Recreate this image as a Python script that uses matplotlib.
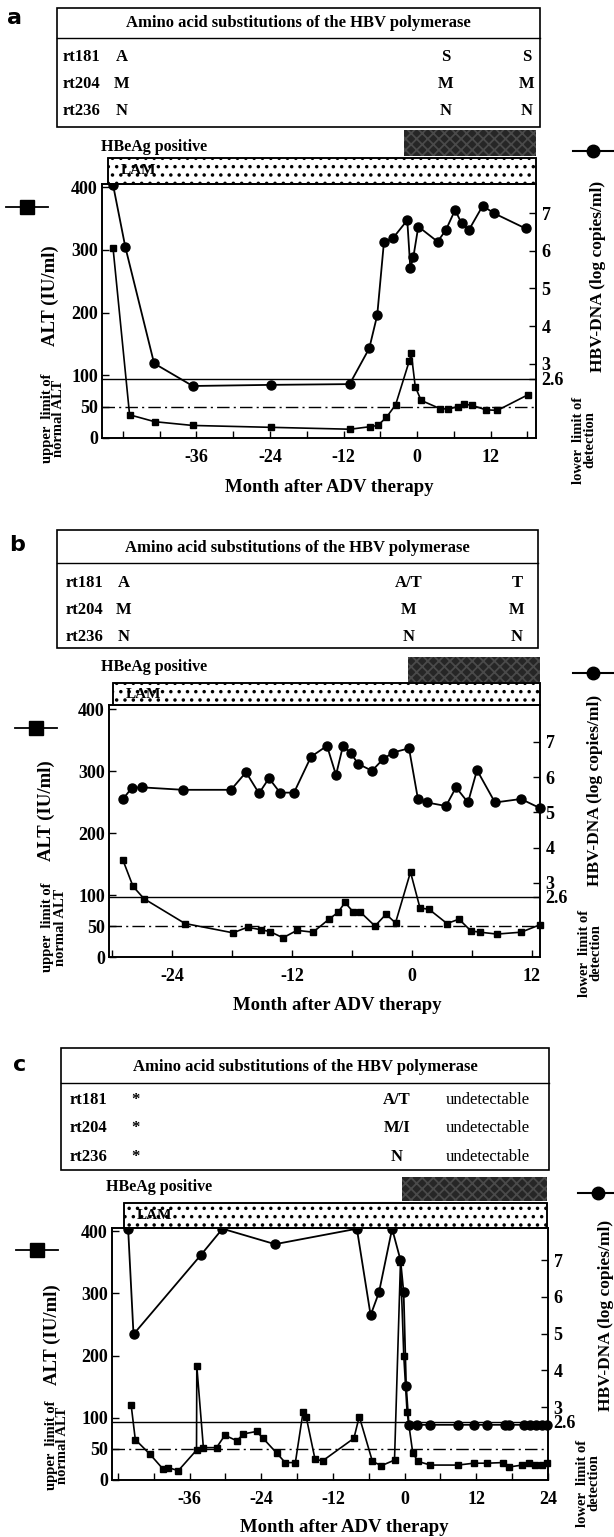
import numpy as np
import matplotlib.pyplot as plt
import matplotlib.transforms as mtransforms
from matplotlib.patches import Rectangle
from matplotlib.lines import Line2D

# ---------------- data ----------------
rows = ['rt181', 'rt204', 'rt236']
table_title = 'Amino acid substitutions of the HBV polymerase'
a_subs = [['A', 'S', 'S'], ['M', 'M', 'M'], ['N', 'N', 'N']]
b_subs = [['A', 'A/T', 'T'], ['M', 'M', 'M'], ['N', 'N', 'N']]
c_subs = [['*', 'A/T', 'undetectable'], ['*', 'M/I', 'undetectable'], ['*', 'N', 'undetectable']]

alt_ticks = [0, 50, 100, 200, 300, 400]
dna_ticks = [2.6, 3, 4, 5, 6, 7]
dna_ticklabels = ['2.6', '3', '4', '5', '6', '7']
alt_uln = 50      # upper limit of normal ALT
dna_lld = 2.6     # lower limit of detection

# panel a
a_alt_month = [-49.6, -46.9, -42.8, -36.6, -23.8, -10.9, -7.7, -6.4, -5.0, -3.5, -1.3,
               -0.95, -0.3, 0.65, 3.7, 5.1, 6.6, 7.7, 9.0, 11.2, 13.1, 18.1]
a_alt = [303, 37, 26, 20, 17, 14, 18, 20, 33, 53, 122, 135, 82, 60, 47, 46, 50, 54, 52,
         45, 44, 69]
a_dna_month = [-49.6, -47.6, -42.9, -36.6, -23.8, -11.0, -7.8, -6.5, -5.4, -3.95, -1.6,
               -1.1, -0.6, 0.2, 3.35, 4.7, 6.2, 7.25, 8.45, 10.7, 12.6, 17.7]
a_dna = [7.75, 6.10, 3.01, 2.41, 2.44, 2.46, 3.41, 4.29, 6.24, 6.33, 6.81, 5.53, 5.84,
         6.64, 6.24, 6.55, 7.08, 6.73, 6.55, 7.19, 6.99, 6.59]
a_lam_start, a_adv_start = -50.4, -2.2

# panel b
b_alt_month = [-28.9, -27.9, -26.8, -22.7, -17.9, -16.45, -15.1, -14.2, -12.9, -11.5,
               -9.9, -8.3, -7.4, -6.7, -5.9, -5.2, -3.7, -2.6, -1.65, -0.15, 0.8, 1.7,
               3.5, 4.7, 5.9, 6.8, 8.5, 10.9, 12.8]
b_alt = [156, 114, 94, 54, 39, 48, 44, 41, 31, 43, 40, 61, 72, 88, 73, 73, 50, 69, 55,
         137, 79, 77, 54, 61, 42, 40, 37, 40, 52]
b_dna_month = [-28.9, -28.0, -27.0, -22.9, -18.1, -16.6, -15.3, -14.3, -13.2, -11.8,
               -10.1, -8.5, -7.6, -6.9, -6.1, -5.4, -4.0, -2.9, -1.9, -0.3, 0.6, 1.5,
               3.4, 4.4, 5.6, 6.5, 8.3, 10.9, 12.8]
b_dna = [5.38, 5.70, 5.71, 5.64, 5.64, 6.14, 5.54, 5.97, 5.56, 5.56, 6.58, 6.89, 6.06,
         6.89, 6.68, 6.38, 6.18, 6.51, 6.70, 6.82, 5.37, 5.28, 5.18, 5.71, 5.28, 6.20,
         5.28, 5.38, 5.12]
b_lam_start, b_adv_start = -29.9, -0.4

# panel c
c_alt_month = [-45.8, -45.1, -42.6, -40.4, -39.6, -37.9, -34.85, -34.8, -33.7, -31.5,
               -30.1, -28.1, -27.0, -24.8, -23.7, -21.4, -20.0, -18.3, -17.0, -16.5,
               -15.0, -13.7, -8.5, -7.6, -5.4, -3.9, -1.7, -0.7, -0.15, 0.4, 1.35, 2.2,
               4.3, 8.9, 11.6, 13.8, 16.4, 17.5, 19.7, 20.8, 21.9, 23.0, 23.9]
c_alt = [121, 65, 41, 17, 20, 15, 48, 183, 52, 52, 72, 63, 74, 78, 67, 43, 28, 28, 110,
         102, 33, 31, 67, 102, 30, 23, 32, 350, 200, 110, 44, 30, 24, 24, 27, 27, 28,
         21, 24, 28, 24, 24, 28]
c_dna_month = [-46.3, -45.4, -34.1, -30.5, -21.7, -8.0, -5.7, -4.3, -2.1, -0.7, -0.17,
               0.25, 0.7, 2.0, 4.3, 8.9, 11.6, 13.8, 16.8, 17.4, 20.0, 21.0, 22.0, 23.0,
               23.9]
c_dna = [7.85, 4.98, 7.14, 7.85, 7.43, 7.85, 5.5, 6.12, 7.85, 7.0, 6.12, 3.58, 2.52,
         2.52, 2.52, 2.52, 2.52, 2.52, 2.52, 2.52, 2.52, 2.52, 2.52, 2.52, 2.52]
c_lam_start, c_adv_start = -47.0, -0.5

# ---------------- layout (pixels of a 614 x 1537 canvas) ----------------
W, H = 614, 1537
fig = plt.figure(figsize=(W / 100, H / 100), dpi=100)
plt.rcParams['font.family'] = ['Liberation Serif', 'DejaVu Serif']
plt.rcParams['hatch.linewidth'] = 1.3

panels = [
    dict(letter='a', letter_xy=(15, 18), subs=a_subs,
         table=(57, 8, 540, 127), sep=38, title_y=23, row_y=[57, 84, 111],
         col_x=[63, 122, 446, 527],
         ax=(102, 184, 536, 438), xlim=(-51.4, 19.4), alt_lim=(0, 405), dna_lim=(1.03, 7.77),
         xmajor=[-36, -24, -12, 0, 12], lam=26, dark=(28, 54), hbe=(101, 147),
         sq=(27, 207), circ=(593, 151), xlabel=(329, 487),
         alt_lab=(50, 296), uln_lab=(53, 418), dna_lab=(598, 276), lld_lab=(584, 440),
         alt=(a_alt_month, a_alt), dna=(a_dna_month, a_dna), starts=(a_lam_start, a_adv_start)),
    dict(letter='b', letter_xy=(17, 545), subs=b_subs,
         table=(57, 530, 538, 648), sep=563, title_y=548, row_y=[583, 610, 637],
         col_x=[66, 124, 409, 517],
         ax=(109, 705, 540, 957), xlim=(-30.3, 12.8), alt_lim=(0, 406.5), dna_lim=(0.89, 8.05),
         xmajor=[-24, -12, 0, 12], lam=22, dark=(23, 48), hbe=(101, 667),
         sq=(36, 728), circ=(593, 673), xlabel=(337, 1005),
         alt_lab=(46, 811), uln_lab=(54, 927), dna_lab=(595, 790), lld_lab=(590, 953),
         alt=(b_alt_month, b_alt), dna=(b_dna_month, b_dna), starts=(b_lam_start, b_adv_start)),
    dict(letter='c', letter_xy=(20, 1065), subs=c_subs,
         table=(61, 1048, 549, 1170), sep=1083, title_y=1067, row_y=[1100, 1128, 1157],
         col_x=[70, 135, 397, 488],
         ax=(112, 1228, 548, 1480), xlim=(-49.0, 23.9), alt_lim=(0, 405), dna_lim=(1.02, 7.87),
         xmajor=[-36, -24, -12, 0, 12, 24], lam=25, dark=(27, 51), hbe=(106, 1187),
         sq=(37, 1250), circ=(598, 1193), xlabel=(344, 1527),
         alt_lab=(52, 1335), uln_lab=(57, 1445), dna_lab=(606, 1315), lld_lab=(588, 1483),
         alt=(c_alt_month, c_alt), dna=(c_dna_month, c_dna), starts=(c_lam_start, c_adv_start)),
]


def fx(x):
    return x / W


def fy(y):
    return 1 - y / H


def ftext(x, y, s, **kw):
    kw.setdefault('ha', 'center')
    kw.setdefault('va', 'center')
    fig.text(fx(x), fy(y), s, **kw)


for p in panels:
    # panel letter
    ftext(*p['letter_xy'], p['letter'], family='DejaVu Sans', fontsize=16, fontweight='bold')

    # substitution table
    l, t, r, b = p['table']
    fig.add_artist(Rectangle((fx(l), fy(b)), fx(r - l), (b - t) / H, transform=fig.transFigure,
                             fill=False, lw=1.2, ec='k'))
    fig.add_artist(Line2D([fx(l), fx(r)], [fy(p['sep'])] * 2, transform=fig.transFigure,
                          lw=1.0, color='k'))
    ftext((l + r) / 2, p['title_y'], table_title, fontsize=12, fontweight='bold')
    for i, name in enumerate(rows):
        y = p['row_y'][i]
        ftext(p['col_x'][0], y, name, ha='left', fontsize=12, fontweight='bold')
        for j, val in enumerate(p['subs'][i]):
            wt = 'normal' if val == 'undetectable' else 'bold'
            ftext(p['col_x'][j + 1], y, val, fontsize=12, fontweight=wt)

    # axes
    l, t, r, b = p['ax']
    ax = fig.add_axes([fx(l), fy(b), fx(r - l), (b - t) / H])
    ax2 = ax.twinx()
    ax.set_xlim(*p['xlim'])
    ax.set_ylim(*p['alt_lim'])
    ax2.set_ylim(*p['dna_lim'])
    ax.set_zorder(ax2.get_zorder() + 1)
    ax.patch.set_visible(False)

    ax.axhline(alt_uln, color='k', lw=1.0, ls=(0, (9, 3, 1.5, 3)))
    ax2.axhline(dna_lld, color='k', lw=1.0)

    ax.plot(*p['alt'], color='k', lw=1.2, marker='s', ms=3.8, clip_on=False, zorder=3)
    ax2.plot(*p['dna'], color='k', lw=1.3, marker='o', ms=6.5, clip_on=False, zorder=3)

    xmin, xmax = p['xlim']
    ax.set_xticks(p['xmajor'])
    ax.set_xticklabels([str(v) for v in p['xmajor']])
    minor = [v for v in range(-48, 25, 6) if xmin < v < xmax and v not in p['xmajor']]
    ax.set_xticks(minor, minor=True)
    ax.set_yticks(alt_ticks)
    ax2.set_yticks(dna_ticks)
    ax2.set_yticklabels(dna_ticklabels)
    for a_ in (ax, ax2):
        a_.tick_params(direction='in', length=5, width=1.0, labelsize=13)
        a_.tick_params(which='minor', direction='in', length=5, width=1.0)
        for lab in a_.get_xticklabels() + a_.get_yticklabels():
            lab.set_fontweight('bold')
        for s in a_.spines.values():
            s.set_linewidth(1.2)
    ax.tick_params(axis='x', pad=8)
    ax.tick_params(axis='y', pad=3)
    ax2.tick_params(axis='y', pad=4)

    # therapy bars above the axes (x in months, y in axes fraction)
    h_px = b - t
    trans = mtransforms.blended_transform_factory(ax.transData, ax.transAxes)
    lam_start, adv_start = p['starts']
    ax.add_patch(Rectangle((lam_start, 1.0), xmax - lam_start, p['lam'] / h_px, transform=trans,
                           clip_on=False, facecolor='white', edgecolor='k', lw=1.1, hatch='..'))
    ax.add_patch(Rectangle((lam_start, 1.0), xmax - lam_start, p['lam'] / h_px, transform=trans,
                           clip_on=False, fill=False, edgecolor='k', lw=1.2))
    d0, d1 = p['dark']
    ax.add_patch(Rectangle((adv_start, 1.0 + d0 / h_px), xmax - adv_start, (d1 - d0) / h_px,
                           transform=trans, clip_on=False, facecolor='#262626',
                           edgecolor='#4a4a4a', lw=0, hatch='xxx'))
    ax.annotate('LAM', xy=(lam_start, 1.0 + p['lam'] / h_px / 2), xycoords=trans,
                xytext=(9, 0), textcoords='offset points', ha='left', va='center',
                fontsize=11, fontweight='bold')
    ftext(*p['hbe'], 'HBeAg positive', ha='left', fontsize=11.5, fontweight='bold')

    # axis labels
    ftext(*p['xlabel'], 'Month after ADV therapy', fontsize=13.5, fontweight='bold')
    ftext(*p['alt_lab'], 'ALT (IU/ml)', rotation=90, fontsize=13.5, fontweight='bold')
    ftext(*p['uln_lab'], 'upper  limit of\nnormal ALT', rotation=90, fontsize=10.5,
          fontweight='bold', linespacing=0.9)
    ftext(*p['dna_lab'], 'HBV-DNA (log copies/ml)', rotation=90, fontsize=12.5,
          fontweight='bold')
    ftext(*p['lld_lab'], 'lower  limit of\ndetection', rotation=90, fontsize=10.5,
          fontweight='bold', linespacing=0.9)

    # legend glyphs
    sx, sy = p['sq']
    fig.add_artist(Line2D([fx(sx - 21), fx(sx + 21)], [fy(sy)] * 2, transform=fig.transFigure,
                          color='k', lw=1.3))
    fig.add_artist(Line2D([fx(sx)], [fy(sy)], transform=fig.transFigure, marker='s', ms=10,
                          color='k', lw=0))
    cx, cy = p['circ']
    fig.add_artist(Line2D([fx(cx - 20), fx(min(cx + 21, W))], [fy(cy)] * 2,
                          transform=fig.transFigure, color='k', lw=1.5))
    fig.add_artist(Line2D([fx(cx)], [fy(cy)], transform=fig.transFigure, marker='o', ms=9,
                          color='k', lw=0))

fig.savefig('out.png', dpi=100)
